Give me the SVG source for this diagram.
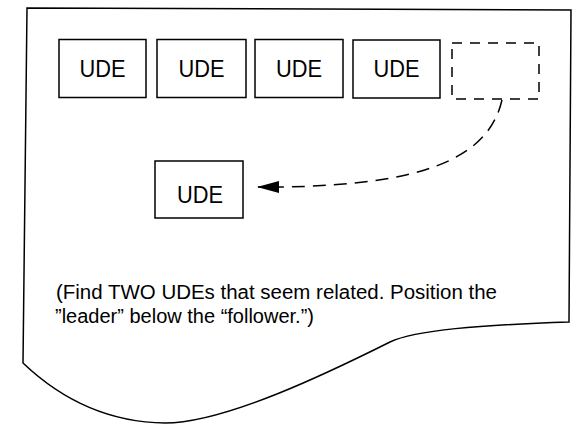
<svg xmlns="http://www.w3.org/2000/svg" width="581" height="431" viewBox="0 0 581 431">
  <style>
    .box { fill: #fff; stroke: #000; stroke-width: 1.5; }
    .dbox { fill: none; stroke: #000; stroke-width: 1.5; stroke-dasharray: 10 8; }
    .lbl { font-family: "Liberation Sans", Arial, sans-serif; font-size: 24px; fill: #000; text-anchor: middle; }
    .note { font-family: "Liberation Sans", Arial, sans-serif; font-size: 20px; fill: #000; }
    .conn { fill: none; stroke: #000; stroke-width: 1.5; stroke-dasharray: 13 8; }
  </style>
  <defs>
    <marker id="arrow" markerWidth="22" markerHeight="12" refX="22" refY="6" orient="auto" markerUnits="userSpaceOnUse">
      <path d="M0,6 L22,0 L22,12 Z" fill="#000" transform="rotate(180 11 6)"/>
    </marker>
  </defs>
  <rect width="581" height="431" fill="#fff"/>
  <g id="page">
    <path d="M27 8 L571 10 L569 322 C480 325 415 330 390 342 C330 372 225 423 165 423 Q85 422 23 363 Z" fill="#fff" stroke="#000" stroke-width="1.5"/>
  </g>
  <g id="ude1"><rect class="box" x="59" y="39.5" width="87" height="58"/><text class="lbl" x="102.5" y="77" textLength="46" lengthAdjust="spacingAndGlyphs">UDE</text></g>
  <g id="ude2"><rect class="box" x="157" y="39.5" width="89" height="58"/><text class="lbl" x="201.5" y="77" textLength="46" lengthAdjust="spacingAndGlyphs">UDE</text></g>
  <g id="ude3"><rect class="box" x="255" y="39.5" width="88" height="58"/><text class="lbl" x="299" y="77" textLength="46" lengthAdjust="spacingAndGlyphs">UDE</text></g>
  <g id="ude4"><rect class="box" x="353" y="40" width="87" height="58"/><text class="lbl" x="396.5" y="77" textLength="46" lengthAdjust="spacingAndGlyphs">UDE</text></g>
  <g id="empty"><rect class="dbox" x="452" y="43" width="87" height="56"/></g>
  <g id="ude-leader"><rect class="box" x="155" y="161" width="88" height="57"/><text class="lbl" x="200" y="203" textLength="46" lengthAdjust="spacingAndGlyphs">UDE</text></g>
  <g id="connectors">
    <path class="conn" d="M502 100 C488 160 420 185 280 187 L258 187"/>
    <path d="M257 187 L279 181 L279 193 Z" fill="#000"/>
  </g>
  <g id="note">
    <text class="note" x="56" y="299" textLength="441" lengthAdjust="spacingAndGlyphs">(Find TWO UDEs that seem related. Position the</text>
    <text class="note" x="55" y="323">”leader” below the “follower.”)</text>
  </g>
</svg>
